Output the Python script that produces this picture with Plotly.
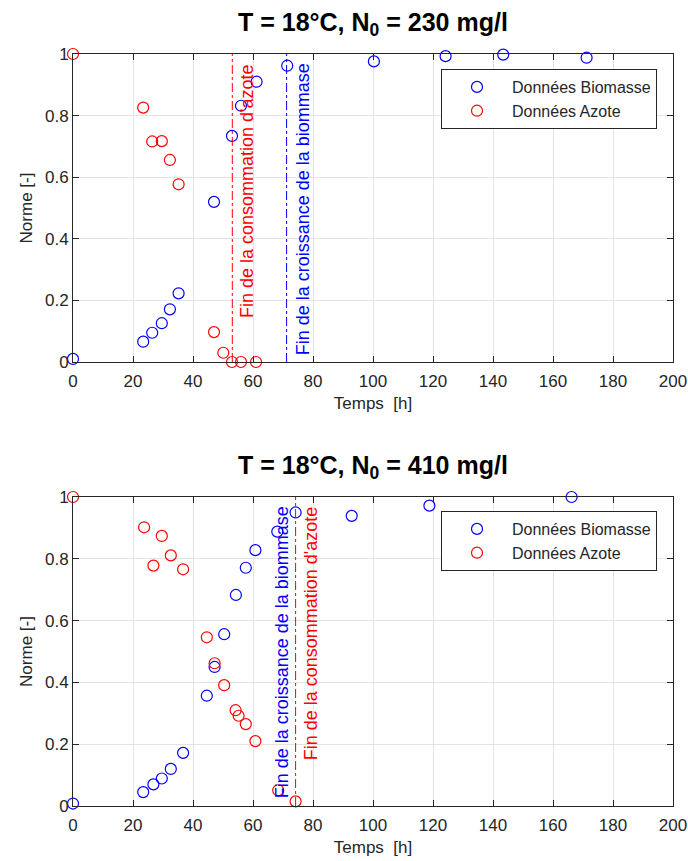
import plotly.graph_objects as go
from plotly.subplots import make_subplots

# --- N0 = 230 mg/l ---
t_bio_230 = [0, 23.4, 26.4, 29.6, 32.3, 35.2, 47.0, 53.0, 56.0, 61.2, 71.4, 100.3, 124.2, 143.4, 171.2]
bio_230 = [0.01, 0.066, 0.095, 0.126, 0.171, 0.223, 0.52, 0.734, 0.832, 0.91, 0.962, 0.976, 0.993, 0.998, 0.988]
t_az_230 = [0, 23.4, 26.4, 29.6, 32.3, 35.2, 47.0, 50.1, 53.0, 56.0, 61.0]
az_230 = [1.0, 0.826, 0.716, 0.717, 0.656, 0.577, 0.097, 0.030, 0.0, 0.0, 0.0]
t_fin_az_230 = 53.1
t_fin_bio_230 = 71.2

# --- N0 = 410 mg/l ---
t_bio_410 = [0, 23.4, 26.8, 29.6, 32.6, 36.7, 44.6, 47.2, 50.4, 54.3, 57.6, 60.8, 68.1, 74.2, 92.9, 118.8, 166.2]
bio_410 = [0.008, 0.045, 0.07, 0.089, 0.12, 0.172, 0.357, 0.45, 0.556, 0.683, 0.771, 0.828, 0.888, 0.95, 0.939, 0.972, 1.0]
t_az_410 = [0, 23.7, 26.8, 29.6, 32.6, 36.7, 44.6, 47.2, 50.4, 54.2, 55.2, 57.6, 60.8, 68.4, 74.2]
az_410 = [1.0, 0.902, 0.778, 0.874, 0.811, 0.766, 0.546, 0.462, 0.391, 0.31, 0.292, 0.265, 0.21, 0.051, 0.015]
t_fin_az_410 = 74.2

x_ticks = list(range(0, 201, 20))
y_ticks = [0, 0.2, 0.4, 0.6, 0.8, 1]

BLUE = "#0000ff"
RED = "#ff0000"
AX = "#262626"
FONT = "Liberation Sans, Arial, sans-serif"

fig = make_subplots(rows=2, cols=1)

def add_panel(row, t_bio, bio, t_az, az, legend_name):
    fig.add_trace(go.Scatter(
        x=t_bio, y=bio, mode="markers", name="Données Biomasse",
        marker=dict(symbol="circle-open", size=11, color=BLUE, line=dict(width=1.2, color=BLUE)),
        cliponaxis=False, legend=legend_name), row=row, col=1)
    fig.add_trace(go.Scatter(
        x=t_az, y=az, mode="markers", name="Données Azote",
        marker=dict(symbol="circle-open", size=11, color=RED, line=dict(width=1.2, color=RED)),
        cliponaxis=False, legend=legend_name), row=row, col=1)

def add_vline(row, xv, color):
    fig.add_trace(go.Scatter(
        x=[xv, xv], y=[0, 1], mode="lines", showlegend=False, hoverinfo="skip",
        line=dict(color=color, width=1, dash="dashdot")), row=row, col=1)

add_panel(1, t_bio_230, bio_230, t_az_230, az_230, "legend")
add_vline(1, t_fin_az_230, RED)
add_vline(1, t_fin_bio_230, BLUE)

add_panel(2, t_bio_410, bio_410, t_az_410, az_410, "legend2")
add_vline(2, t_fin_az_410, RED)

def vlabel(xref, yref, xv, text, color, shift):
    fig.add_annotation(
        x=xv, y=0.975, xref=xref, yref=yref, text=text, textangle=-90,
        showarrow=False, xanchor="center", yanchor="top", xshift=shift,
        font=dict(family=FONT, size=18, color=color))

vlabel("x", "y", t_fin_az_230, "Fin de la consommation d'azote", RED, 14)
vlabel("x", "y", t_fin_bio_230, "Fin de la croissance de la biommase", BLUE, 16)
vlabel("x2", "y2", t_fin_az_410, "Fin de la consommation d'azote", RED, 15)
vlabel("x2", "y2", t_fin_az_410, "Fin de la croissance de la biommase", BLUE, -14)

# panel titles
for ytitle, txt in [(1 - 24 / 861, "T = 18°C, N<sub>0</sub> = 230 mg/l"),
                    (1 - 467 / 861, "T = 18°C, N<sub>0</sub> = 410 mg/l")]:
    fig.add_annotation(
        x=373 / 688, y=ytitle, xref="paper", yref="paper", text="<b>" + txt + "</b>",
        showarrow=False, xanchor="center", yanchor="middle",
        font=dict(family=FONT, size=25, color="#000000"))

axis_common = dict(
    showline=True, linecolor=AX, linewidth=1, mirror="ticks",
    ticks="inside", ticklen=6, tickcolor=AX, tickwidth=1,
    showgrid=True, gridcolor="#e3e3e3", gridwidth=1, zeroline=False,
    tickfont=dict(family=FONT, size=17, color=AX), automargin=False,
)

x_dom = [73 / 688, 673 / 688]
for i, (ylo, yhi) in enumerate([(1 - 362 / 861, 1 - 54 / 861), (1 - 806 / 861, 1 - 497 / 861)], start=1):
    xa = "xaxis" if i == 1 else "xaxis2"
    ya = "yaxis" if i == 1 else "yaxis2"
    fig.update_layout(**{
        xa: dict(axis_common, domain=x_dom, range=[0, 200], tickvals=x_ticks, ticklabelstandoff=4,
                 title=dict(text="Temps  [h]", font=dict(family=FONT, size=17, color=AX), standoff=6)),
        ya: dict(axis_common, domain=[ylo, yhi], range=[0, 1], tickvals=y_ticks,
                 title=dict(text="Norme [-]", font=dict(family=FONT, size=17, color=AX), standoff=8)),
    })

legend_common = dict(
    xanchor="right", yanchor="top", bgcolor="#ffffff", bordercolor=AX, borderwidth=1,
    font=dict(family=FONT, size=16, color=AX), itemwidth=60, traceorder="normal",
)
fig.update_layout(
    legend=dict(legend_common, x=657 / 688, y=1 - 69 / 861),
    legend2=dict(legend_common, x=657 / 688, y=1 - 511 / 861),
    width=688, height=861,
    margin=dict(l=0, r=0, t=0, b=0, autoexpand=False),
    paper_bgcolor="#ffffff", plot_bgcolor="#ffffff",
    font=dict(family=FONT, color=AX),
)

fig.write_html("out.html")
